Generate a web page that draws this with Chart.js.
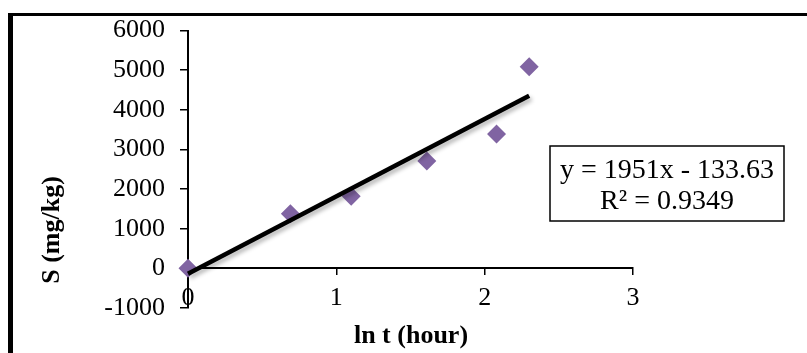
<!DOCTYPE html>
<html>
<head>
<meta charset="utf-8">
<title>S vs ln t</title>
<script src="https://cdn.jsdelivr.net/npm/chart.js@4/dist/chart.umd.min.js"></script>
<style>
  html, body { margin: 0; padding: 0; background: #fff; }
  #wrap { position: relative; width: 807px; height: 353px; overflow: hidden; }
  #frame {
    position: absolute; left: 8px; top: 13px; right: -20px; bottom: -20px;
    border-top: 3px solid #000; border-left: 5px solid #000;
  }
  canvas { position: absolute; left: 0; top: 0; }
</style>
</head>
<body>
<div id="wrap">
  <div id="frame"></div>
  <canvas id="chart" width="807" height="353"></canvas>
</div>
<script>
// ln of sampling time (hours) and measured S
const lnT = [0, 0.69, 1.10, 1.61, 2.08, 2.30];
const sValues = [0, 1380, 1820, 2710, 3390, 5090];

// linear fit reported on the chart
const trendSlope = 1951;
const trendIntercept = -133.63;
const rSquared = 0.9349;

const xTicks = [0, 1, 2, 3];
const yTicks = [-1000, 0, 1000, 2000, 3000, 4000, 5000, 6000];

const xTitle = 'ln t (hour)';
const yTitle = 'S (mg/kg)';

const serif = "'Liberation Serif', 'Times New Roman', serif";
const purple = '#8064A2';

Chart.defaults.font.family = serif;
Chart.defaults.color = '#000';

// trend line end points from the fitted equation
const trendX = [lnT[0], lnT[lnT.length - 1]];
const trendPoints = trendX.map(x => ({ x, y: trendSlope * x + trendIntercept }));

// soft drop shadow under the trend line
const trendShadow = {
    id: 'trendShadow',
    beforeDatasetDraw(chart, args) {
        if (args.index !== 0) return;
        const ctx = chart.ctx;
        ctx.save();
        ctx.shadowColor = 'rgba(0, 0, 0, 0.3)';
        ctx.shadowBlur = 4;
        ctx.shadowOffsetX = 2;
        ctx.shadowOffsetY = 3;
    },
    afterDatasetDraw(chart, args) {
        if (args.index !== 0) return;
        chart.ctx.restore();
    },
};

// axis titles and the equation box
const labels = {
    id: 'labels',
    afterDraw(chart) {
        const ctx = chart.ctx;
        ctx.save();
        ctx.fillStyle = '#000';
        ctx.textAlign = 'center';
        ctx.textBaseline = 'middle';

        ctx.font = `bold 26px ${serif}`;
        ctx.fillText(xTitle, 411, 336);

        ctx.save();
        ctx.translate(52, 230);
        ctx.rotate(-Math.PI / 2);
        ctx.fillText(yTitle, 0, 0);
        ctx.restore();

        ctx.strokeStyle = '#000';
        ctx.lineWidth = 1.5;
        ctx.strokeRect(550, 146, 234, 75);

        const sign = trendIntercept < 0 ? '-' : '+';
        ctx.font = `28px ${serif}`;
        ctx.fillText(`y = ${trendSlope}x ${sign} ${Math.abs(trendIntercept)}`, 667, 171);
        ctx.fillText(`R² = ${rSquared}`, 667, 202);
        ctx.restore();
    },
};

const plainNumber = v => String(v);

new Chart(document.getElementById('chart'), {
    type: 'scatter',
    data: {
        datasets: [
            {
                label: 'Linear fit',
                data: trendPoints,
                showLine: true,
                borderColor: '#000',
                borderWidth: 4.5,
                pointRadius: 0,
                clip: false,
            },
            {
                label: 'S',
                data: lnT.map((x, i) => ({ x, y: sValues[i] })),
                pointStyle: 'rectRot',
                pointRadius: 9.5,
                pointHoverRadius: 9.5,
                pointBackgroundColor: purple,
                pointBorderWidth: 0,
                borderColor: purple,
                clip: false,
            },
        ],
    },
    options: {
        responsive: false,
        animation: false,
        events: [],
        layout: { padding: { left: 0, right: 174, top: 29, bottom: 45 } },
        scales: {
            x: {
                type: 'linear',
                position: { y: 0 },
                min: xTicks[0],
                max: xTicks[xTicks.length - 1],
                afterBuildTicks(scale) { scale.ticks = xTicks.map(v => ({ value: v })); },
                ticks: { font: { size: 26 }, padding: 8, color: '#000', callback: plainNumber },
                grid: { drawOnChartArea: false, drawTicks: true, tickLength: 6, color: '#000', lineWidth: 1.5 },
                border: { display: true, color: '#000', width: 2 },
            },
            y: {
                type: 'linear',
                min: yTicks[0],
                max: yTicks[yTicks.length - 1],
                afterBuildTicks(scale) { scale.ticks = yTicks.map(v => ({ value: v })); },
                afterFit(scale) { scale.width = 188; },
                ticks: { font: { size: 26 }, padding: 15, color: '#000', callback: plainNumber },
                grid: { drawOnChartArea: false, drawTicks: true, tickLength: 8, color: '#000', lineWidth: 1.5 },
                border: { display: true, color: '#000', width: 2 },
            },
        },
        plugins: {
            legend: { display: false },
            tooltip: { enabled: false },
        },
    },
    plugins: [trendShadow, labels],
});
</script>
</body>
</html>
